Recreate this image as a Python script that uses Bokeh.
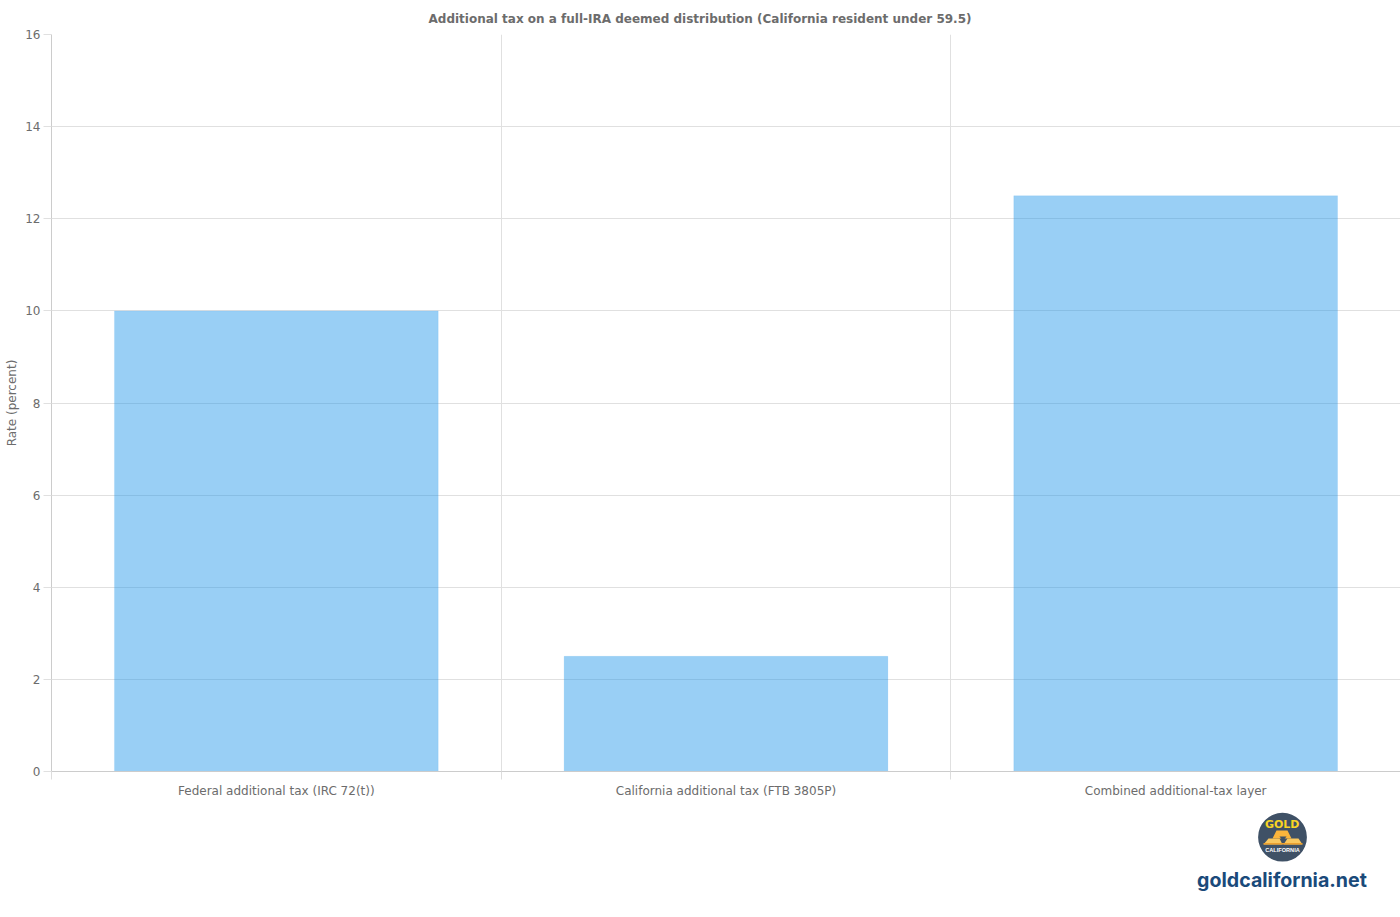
from bokeh.plotting import figure
from bokeh.embed import file_html
from bokeh.resources import INLINE
from bokeh.models import FixedTicker, Range1d, Spacer, ColumnDataSource
from bokeh.layouts import column, row
from bokeh.core.properties import value

categories = ["Federal additional tax (IRC 72(t))", "California additional tax (FTB 3805P)", "Combined additional-tax layer"]
rates = [10, 2.5, 12.5]
y_ticks = [0, 2, 4, 6, 8, 10, 12, 14, 16]
title = "Additional tax on a full-IRA deemed distribution (California resident under 59.5)"
y_label = "Rate (percent)"
domain = "goldcalifornia.net"

centers = [i + 0.5 for i in range(len(categories))]
edges = list(range(len(categories) + 1))
FONT = "DejaVu Sans"
GREY = "#6c6c6c"

p = figure(width=1400, height=800, output_backend="svg", toolbar_location=None,
           x_range=Range1d(0, 3), y_range=Range1d(0, 16),
           min_border_left=51, min_border_right=0, min_border_top=34, min_border_bottom=29)
p.outline_line_color = None
p.background_fill_color = "white"

p.title.text = title
p.title.text_font = FONT
p.title.text_font_size = "12px"
p.title.text_font_style = "bold"
p.title.text_color = GREY
p.title.align = "left"
p.title.offset = 377
p.title.standoff = 18

src = ColumnDataSource(dict(x=centers, top=rates))
p.vbar(x="x", top="top", width=0.72, bottom=0, source=src,
       fill_color="#1c94e9", fill_alpha=0.45, line_color="#1c94e9", line_alpha=0.1, line_width=1)

xa = p.xaxis[0]
xa.ticker = FixedTicker(ticks=centers, minor_ticks=edges)
xa.major_label_overrides = {c: t for c, t in zip(centers, categories)}
xa.major_tick_in = 0
xa.major_tick_out = 0
xa.minor_tick_in = 0
xa.minor_tick_out = 8
xa.minor_tick_line_color = "#dddddd"
xa.axis_line_color = "#cccccc"
xa.major_label_text_font = FONT
xa.major_label_text_font_size = "12px"
xa.major_label_text_color = GREY
xa.major_label_standoff = 4

ya = p.yaxis[0]
ya.ticker = FixedTicker(ticks=y_ticks)
ya.axis_label = y_label
ya.axis_label_text_font = FONT
ya.axis_label_text_font_size = "12px"
ya.axis_label_text_font_style = "normal"
ya.axis_label_text_color = GREY
ya.axis_label_standoff = 3
ya.major_tick_in = 0
ya.major_tick_out = 8
ya.major_tick_line_color = "#e0e0e0"
ya.minor_tick_line_color = None
ya.axis_line_color = "#cccccc"
ya.major_label_text_font = FONT
ya.major_label_text_font_size = "12px"
ya.major_label_text_color = GREY
ya.major_label_standoff = 3

p.xgrid[0].ticker = FixedTicker(ticks=edges)
p.ygrid[0].ticker = FixedTicker(ticks=y_ticks)
p.xgrid[0].grid_line_color = "#e0e0e0"
p.ygrid[0].grid_line_color = "#e0e0e0"

# logo block (decoration), canvas spans page x 1180-1380, y 800-900
logo = figure(width=200, height=100, output_backend="svg", toolbar_location=None,
              x_range=Range1d(1180, 1380), y_range=Range1d(900, 800),
              min_border=0, outline_line_color=None)
logo.axis.visible = False
logo.grid.visible = False
logo.circle(x=[1282], y=[836.7], radius=24.4, fill_color="#3f5166", line_color=None)
logo.patches(xs=[[1263, 1268, 1279, 1282], [1283, 1287, 1298, 1302], [1272, 1276, 1287, 1291]],
             ys=[[844, 838, 838, 844], [844, 838, 838, 844], [838, 830, 830, 838]],
             fill_color=["#f8c75f", "#f8c75f", "#fbb53c"], line_color=None)
logo.patches(xs=[[1263, 1302, 1302, 1263], [1279, 1286, 1282.5]],
             ys=[[842.5, 842.5, 844, 844], [836, 836, 840.5]],
             fill_color=["#eb9f2f", "#3f5166"], line_color=None)
logo.text(x=[1281.7], y=[824], text=["GOLD"], text_font=value("DejaVu Sans"), text_font_size="11px",
          text_font_style="bold", text_color="#f9d423", text_align="center", text_baseline="middle")
logo.text(x=[1282], y=[849.3], text=["CALIFORNIA"], text_font=value("Liberation Sans"), text_font_size="5.6px",
          text_font_style="bold", text_color="#ffffff", text_align="center", text_baseline="middle")
logo.text(x=[1281.5], y=[879.3], text=[domain], text_font=value("Inter"), text_font_size="19.6px",
          text_font_style="bold", text_color="#1a4a7a", text_align="center", text_baseline="middle")

out = column(p, row(Spacer(width=1180, height=100), logo), spacing=0,
             styles={"position": "absolute", "left": "0px", "top": "0px"})
open("out.html", "w").write(file_html(out, INLINE))
